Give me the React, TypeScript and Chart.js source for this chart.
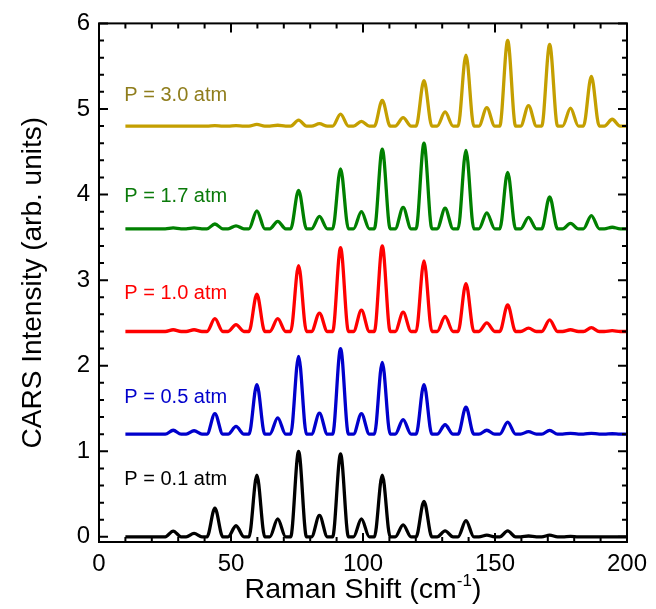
import React, { useEffect, useRef } from "react";
import { Chart, registerables } from "chart.js";

Chart.register(...registerables);

// ---------- data ----------
const ramanShift = [
  28.1, 36.0, 43.9, 51.9, 59.8, 67.7, 75.6, 83.5, 91.5, 99.4, 107.3,
  115.2, 123.1, 131.1, 139.0, 146.9, 154.8, 162.7, 170.7, 178.6, 186.5, 194.4,
];
const scanStart = 10;
const scanEnd = 200;

const pressureLabels = ["P = 0.1 atm", "P = 0.5 atm", "P = 1.0 atm", "P = 1.7 atm", "P = 3.0 atm"];
const baselineOffsets = [0, 1.2, 2.4, 3.6, 4.8];

const peaks01 = [0.068, 0.04, 0.335, 0.13, 0.72, 0.21, 1.0, 0.25, 0.97, 0.21, 0.72, 0.14, 0.415, 0.07, 0.19, 0.02, 0.07, 0.01, 0.02, 0.005, 0, 0];
const peaks05 = [0.046, 0.04, 0.24, 0.09, 0.58, 0.19, 0.91, 0.245, 1.0, 0.24, 0.84, 0.17, 0.58, 0.11, 0.315, 0.046, 0.14, 0.03, 0.045, 0.01, 0.01, 0.005];
const peaks10 = [0.02, 0.02, 0.15, 0.08, 0.435, 0.15, 0.77, 0.215, 0.98, 0.25, 1.0, 0.225, 0.825, 0.175, 0.56, 0.1, 0.31, 0.04, 0.135, 0.02, 0.045, 0.01];
const peaks17 = [0.01, 0.01, 0.056, 0.035, 0.21, 0.087, 0.45, 0.145, 0.7, 0.2, 0.93, 0.25, 1.0, 0.24, 0.915, 0.187, 0.66, 0.133, 0.374, 0.064, 0.153, 0.018];
const peaks30 = [0, 0, 0.005, 0.005, 0.02, 0.01, 0.07, 0.028, 0.14, 0.055, 0.3, 0.1, 0.53, 0.165, 0.83, 0.215, 1.0, 0.24, 0.955, 0.21, 0.58, 0.08];
const peakSets = [peaks01, peaks05, peaks10, peaks17, peaks30];

// label anchors (data units)
const labelX = 9.6;
const labelY = [0.605, 1.561, 2.775, 3.911, 5.098];

const xTicks = [0, 50, 100, 150, 200];
const yTicks = [0, 1, 2, 3, 4, 5, 6];

// ---------- styles ----------
const lineColors = ["#000000", "#0000CC", "#FF0000", "#008000", "#C49F00"];
const labelColors = ["#000000", "#0000CC", "#FF0000", "#0A7A0A", "#8F7D1C"];
const FONT = "'Liberation Sans', Arial, Helvetica, sans-serif";
const PEAK_HALF_WIDTH = 3.0;

function buildSeries(peaks: number[], base: number) {
  const pts: { x: number; y: number }[] = [{ x: scanStart, y: base }];
  ramanShift.forEach((c, i) => {
    pts.push({ x: c - PEAK_HALF_WIDTH, y: base });
    pts.push({ x: c, y: base + peaks[i] });
    pts.push({ x: c + PEAK_HALF_WIDTH, y: base });
  });
  pts.push({ x: scanEnd, y: base });
  return pts;
}

const framePlugin = {
  id: "frameAndLabels",
  afterDatasetsDraw(chart: any) {
    const { ctx, chartArea: a, scales } = chart;
    const xs = scales.x;
    const ys = scales.y;
    ctx.save();
    ctx.strokeStyle = "#000";
    ctx.lineWidth = 2;
    ctx.strokeRect(a.left, a.top, a.right - a.left, a.bottom - a.top);
    ctx.beginPath();
    for (let v = 0; v <= 200 + 1e-6; v += 10) {
      const px = xs.getPixelForValue(v);
      const len = v % 50 === 0 ? 9 : 5;
      ctx.moveTo(px, a.bottom);
      ctx.lineTo(px, a.bottom - len);
      ctx.moveTo(px, a.top);
      ctx.lineTo(px, a.top + len);
    }
    for (let k = 0; k <= 30; k++) {
      const v = k * 0.2;
      const py = ys.getPixelForValue(v);
      const len = k % 5 === 0 ? 9 : 5;
      ctx.moveTo(a.left, py);
      ctx.lineTo(a.left + len, py);
      ctx.moveTo(a.right, py);
      ctx.lineTo(a.right - len, py);
    }
    ctx.stroke();

    // series labels
    ctx.font = `20px ${FONT}`;
    ctx.textAlign = "left";
    ctx.textBaseline = "alphabetic";
    pressureLabels.forEach((t, i) => {
      ctx.fillStyle = labelColors[i];
      ctx.fillText(t, xs.getPixelForValue(labelX), ys.getPixelForValue(labelY[i]));
    });

    // y title
    ctx.fillStyle = "#000";
    ctx.save();
    ctx.translate(41, (a.top + a.bottom) / 2);
    ctx.rotate(-Math.PI / 2);
    ctx.font = `28px ${FONT}`;
    ctx.textAlign = "center";
    ctx.fillText("CARS Intensity (arb. units)", 0, 0);
    ctx.restore();

    // x title with superscript
    const main = "Raman Shift (cm";
    const sup = "-1";
    const close = ")";
    ctx.textAlign = "left";
    ctx.font = `28.5px ${FONT}`;
    const w1 = ctx.measureText(main).width;
    const w3 = ctx.measureText(close).width;
    ctx.font = `17px ${FONT}`;
    const w2 = ctx.measureText(sup).width;
    const total = w1 + w2 + w3;
    const x0 = (a.left + a.right) / 2 - total / 2;
    const base = 598;
    ctx.font = `28.5px ${FONT}`;
    ctx.fillText(main, x0, base);
    ctx.font = `17px ${FONT}`;
    ctx.fillText(sup, x0 + w1, base - 12);
    ctx.font = `28.5px ${FONT}`;
    ctx.fillText(close, x0 + w1 + w2, base);
    ctx.restore();
  },
};

export default function App() {
  const ref = useRef<HTMLCanvasElement>(null);
  useEffect(() => {
    if (!ref.current) return;
    const chart = new Chart(ref.current, {
      type: "line",
      data: {
        datasets: peakSets.map((p, i) => ({
          label: pressureLabels[i],
          data: buildSeries(p, baselineOffsets[i]),
          borderColor: lineColors[i],
          backgroundColor: lineColors[i],
          borderWidth: 3.3,
          pointRadius: 0,
          cubicInterpolationMode: "monotone" as const,
          fill: false,
        })),
      },
      options: {
        responsive: false,
        animation: false,
        events: [],
        layout: { padding: { top: 14, right: 29, left: 0, bottom: 0 } },
        plugins: { legend: { display: false }, tooltip: { enabled: false } },
        scales: {
          x: {
            type: "linear",
            min: 0,
            max: 200,
            afterFit: (s: any) => { s.height = 67; },
            afterBuildTicks: (s: any) => { s.ticks = xTicks.map((v) => ({ value: v })); },
            grid: { display: false, drawTicks: false },
            border: { display: false },
            ticks: { color: "#000", font: { family: FONT, size: 24 }, padding: 8, maxRotation: 0, autoSkip: false },
          },
          y: {
            type: "linear",
            min: -0.06,
            max: 6,
            afterFit: (s: any) => { s.width = 99; },
            afterBuildTicks: (s: any) => { s.ticks = yTicks.map((v) => ({ value: v })); },
            grid: { display: false, drawTicks: false },
            border: { display: false },
            ticks: { color: "#000", font: { family: FONT, size: 24 }, padding: 9 },
          },
        },
      },
      plugins: [framePlugin],
    });
    return () => chart.destroy();
  }, []);
  return (
    <div style={{ position: "fixed", left: 0, top: 0, width: 656, height: 609, background: "#fff" }}>
      <canvas ref={ref} width={656} height={609} style={{ width: 656, height: 609, display: "block" }} />
    </div>
  );
}
